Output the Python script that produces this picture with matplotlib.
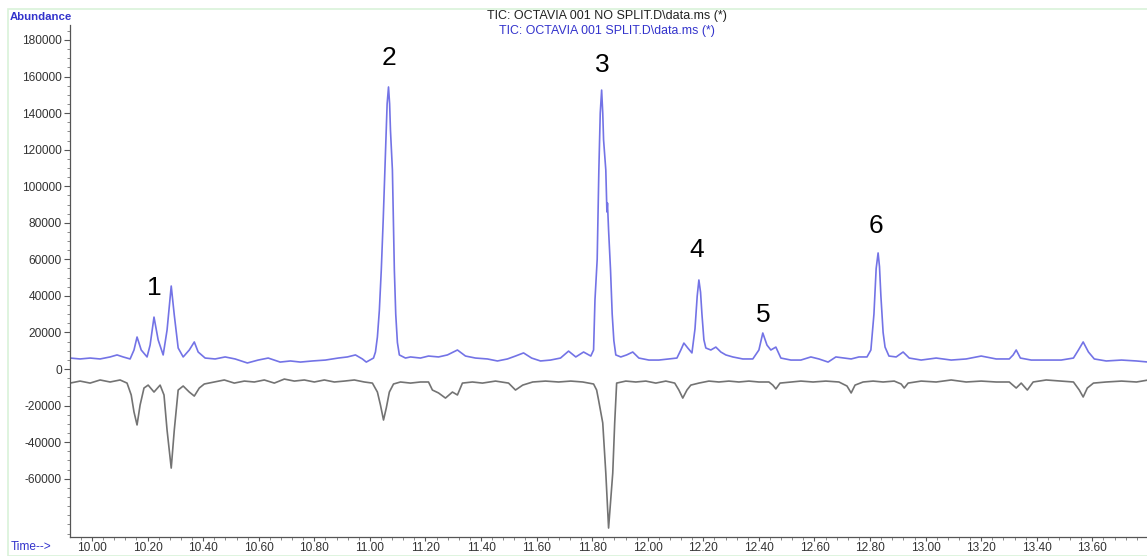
import matplotlib.pyplot as plt
import numpy as np
from matplotlib.patches import Rectangle
from matplotlib.ticker import FixedLocator, MultipleLocator, FormatStrFormatter

plt.rcParams["font.family"] = ["Liberation Sans", "DejaVu Sans"]

# TIC: OCTAVIA 001 SPLIT (blue trace), time in min, abundance in thousands
split_time = [
    9.921, 9.957, 9.993, 10.029, 10.065, 10.090, 10.112, 10.137, 10.151, 10.162,
    10.177, 10.198, 10.209, 10.223, 10.238, 10.256, 10.270, 10.285, 10.296, 10.310,
    10.328, 10.350, 10.368, 10.382, 10.407, 10.443, 10.479, 10.515, 10.559, 10.598,
    10.634, 10.677, 10.714, 10.750, 10.793, 10.840, 10.886, 10.919, 10.948, 10.973,
    10.987, 11.013, 11.020, 11.027, 11.034, 11.041, 11.048, 11.056, 11.062, 11.067,
    11.071, 11.074, 11.081, 11.088, 11.093, 11.099, 11.106, 11.128, 11.146, 11.182,
    11.211, 11.247, 11.279, 11.315, 11.344, 11.380, 11.423, 11.459, 11.495, 11.524,
    11.553, 11.582, 11.614, 11.650, 11.686, 11.715, 11.741, 11.769, 11.795, 11.805,
    11.810, 11.818, 11.824, 11.829, 11.834, 11.838, 11.841, 11.849, 11.853, 11.855,
    11.859, 11.866, 11.872, 11.878, 11.885, 11.903, 11.924, 11.946, 11.968, 12.004,
    12.040, 12.076, 12.105, 12.119, 12.130, 12.144, 12.159, 12.170, 12.178, 12.184,
    12.190, 12.195, 12.202, 12.209, 12.227, 12.245, 12.263, 12.281, 12.306, 12.342,
    12.378, 12.400, 12.414, 12.429, 12.443, 12.461, 12.479, 12.515, 12.551, 12.587,
    12.616, 12.649, 12.677, 12.706, 12.732, 12.760, 12.789, 12.803, 12.814, 12.822,
    12.829, 12.834, 12.839, 12.847, 12.854, 12.868, 12.894, 12.919, 12.941, 12.984,
    13.038, 13.092, 13.146, 13.200, 13.254, 13.301, 13.315, 13.326, 13.341, 13.380,
    13.434, 13.488, 13.532, 13.550, 13.567, 13.586, 13.607, 13.650, 13.705, 13.759,
    13.802,
]
split_abund = [
    6.0, 5.5, 6.0, 5.5, 6.6, 7.7, 6.6, 5.5, 10.4, 17.5,
    10.4, 6.6, 13.1, 28.4, 15.9, 7.7, 21.3, 45.4, 29.5, 11.5,
    6.6, 10.4, 14.8, 9.3, 6.0, 5.5, 6.6, 5.5, 3.3, 4.9,
    6.0, 3.8, 4.4, 3.8, 4.4, 4.9, 6.0, 6.6, 7.7, 5.5,
    3.8, 6.0, 9.3, 17.5, 32.0, 54.2, 82.0, 118.0, 145.0, 154.3,
    145.0, 130.7, 108.9, 54.2, 30.0, 14.5, 7.7, 6.0, 6.6, 6.0,
    7.1, 6.6, 7.7, 10.4, 7.1, 6.0, 5.5, 4.4, 5.5, 7.1,
    8.8, 6.0, 4.4, 4.9, 6.0, 9.8, 6.6, 9.3, 7.1, 10.4,
    37.7, 60.0, 108.9, 140.0, 152.6, 140.0, 125.3, 108.9, 85.9, 90.8,
    76.0, 54.2, 30.0, 15.5, 7.7, 6.6, 7.7, 9.3, 6.0, 4.9,
    4.9, 5.5, 6.0, 10.4, 14.2, 11.5, 8.8, 22.0, 40.0, 48.7,
    42.0, 30.0, 16.0, 11.5, 10.4, 12.0, 9.3, 7.7, 6.6, 5.5,
    5.5, 10.4, 19.7, 13.1, 10.4, 12.0, 6.0, 4.9, 4.9, 6.6,
    5.5, 3.8, 6.6, 6.0, 5.5, 6.6, 6.6, 10.4, 30.0, 55.0,
    63.5, 56.0, 40.0, 20.0, 12.0, 7.1, 6.6, 9.3, 6.0, 4.9,
    6.0, 4.9, 5.5, 7.1, 5.5, 5.5, 7.7, 10.4, 6.0, 4.9,
    4.9, 4.9, 6.0, 10.4, 14.8, 9.3, 5.5, 4.4, 4.9, 4.4,
    3.8,
]

# TIC: OCTAVIA 001 NO SPLIT (grey trace, drawn mirrored below zero)
nosplit_time = [
    9.921, 9.957, 9.993, 10.029, 10.065, 10.101, 10.126, 10.141, 10.151, 10.162,
    10.173, 10.187, 10.202, 10.223, 10.245, 10.259, 10.270, 10.285, 10.296, 10.310,
    10.328, 10.350, 10.368, 10.386, 10.404, 10.440, 10.476, 10.512, 10.548, 10.584,
    10.620, 10.656, 10.692, 10.728, 10.764, 10.800, 10.836, 10.872, 10.908, 10.944,
    10.980, 11.009, 11.027, 11.038, 11.049, 11.059, 11.070, 11.085, 11.110, 11.146,
    11.182, 11.211, 11.225, 11.247, 11.272, 11.297, 11.315, 11.333, 11.369, 11.405,
    11.452, 11.499, 11.524, 11.550, 11.586, 11.632, 11.679, 11.723, 11.766, 11.805,
    11.816, 11.823, 11.838, 11.849, 11.859, 11.874, 11.881, 11.888, 11.921, 11.957,
    11.993, 12.029, 12.065, 12.097, 12.112, 12.126, 12.141, 12.155, 12.184, 12.220,
    12.256, 12.292, 12.328, 12.364, 12.400, 12.436, 12.450, 12.461, 12.476, 12.515,
    12.551, 12.595, 12.641, 12.688, 12.717, 12.732, 12.746, 12.775, 12.811, 12.847,
    12.887, 12.912, 12.923, 12.937, 12.984, 13.038, 13.092, 13.146, 13.200, 13.254,
    13.301, 13.326, 13.344, 13.366, 13.387, 13.434, 13.488, 13.532, 13.553, 13.567,
    13.582, 13.604, 13.650, 13.705, 13.759, 13.802,
]
nosplit_abund = [
    -7.7, -6.6, -7.7, -6.0, -7.1, -6.0, -7.7, -14.2, -23.5, -30.6,
    -19.7, -10.4, -8.8, -12.6, -8.8, -14.2, -33.4, -54.2, -33.4, -11.5,
    -9.3, -12.6, -14.8, -10.4, -8.2, -7.1, -6.0, -7.7, -6.6, -7.1,
    -6.0, -7.7, -5.5, -6.6, -6.0, -7.1, -6.0, -7.1, -6.6, -6.0,
    -7.1, -7.7, -12.6, -19.7, -27.9, -21.3, -12.6, -8.2, -7.1, -7.7,
    -7.1, -7.1, -11.5, -13.1, -15.9, -12.6, -14.2, -7.7, -7.1, -7.7,
    -6.6, -7.7, -11.5, -8.8, -7.1, -6.6, -7.1, -6.6, -7.1, -8.2,
    -11.5, -17.0, -29.5, -56.9, -87.0, -56.9, -29.5, -7.7, -6.6, -7.1,
    -6.6, -7.7, -6.6, -7.7, -11.5, -15.9, -11.5, -8.8, -7.7, -6.6,
    -7.1, -6.6, -7.1, -6.6, -7.1, -7.1, -8.8, -10.9, -7.7, -7.1,
    -6.6, -7.1, -6.6, -7.1, -9.3, -13.1, -8.8, -7.1, -6.6, -7.1,
    -6.6, -8.2, -10.4, -7.7, -6.6, -7.1, -6.0, -7.1, -6.6, -7.1,
    -7.1, -10.4, -7.7, -11.5, -7.1, -6.0, -6.6, -7.1, -11.5, -15.3,
    -10.4, -7.7, -7.1, -6.6, -7.1, -6.0,
]

# peak numbers and where they sit (time, abundance in thousands)
peak_labels = ["1", "2", "3", "4", "5", "6"]
label_time = [10.223, 11.070, 11.838, 12.177, 12.414, 12.822]
label_abund = [44.3, 170.1, 166.3, 65.1, 29.5, 78.2]

x_ticks = [10.0, 10.2, 10.4, 10.6, 10.8, 11.0, 11.2, 11.4, 11.6, 11.8,
           12.0, 12.2, 12.4, 12.6, 12.8, 13.0, 13.2, 13.4, 13.6]
y_ticks = [180000, 160000, 140000, 120000, 100000, 80000, 60000, 40000,
           20000, 0, -20000, -40000, -60000]

W, H = 1147, 556
fig = plt.figure(figsize=(W / 100, H / 100), dpi=100)
fig.patch.set_facecolor("white")

# thin pale green frame of the instrument window
fig.patches.append(Rectangle((8 / W, 0.5 / H), 1.2, (H - 9.5) / H, transform=fig.transFigure,
                             fill=False, edgecolor="#d9f2d9", linewidth=1.2))

ax = fig.add_axes([70 / W, (H - 537) / H, (W - 70) / W + 0.01, (537 - 25) / H])
ax.plot(split_time, np.array(split_abund) * 1000, color="#7373e6", linewidth=1.2)
ax.plot(nosplit_time, np.array(nosplit_abund) * 1000, color="#737373", linewidth=1.2)

for lab, t, a in zip(peak_labels, label_time, label_abund):
    ax.text(t, a * 1000, lab, ha="center", va="center", fontsize=19, color="black")

ax.set_xlim(9.9207, 13.802 + 0.036)
ax.set_ylim(-91900, 188200)

for side in ("top", "right"):
    ax.spines[side].set_visible(False)
for side in ("left", "bottom"):
    ax.spines[side].set_color("#555555")
    ax.spines[side].set_linewidth(0.9)

ax.xaxis.set_major_locator(FixedLocator(x_ticks))
ax.xaxis.set_minor_locator(MultipleLocator(0.04))
ax.xaxis.set_major_formatter(FormatStrFormatter("%.2f"))
ax.yaxis.set_major_locator(FixedLocator(y_ticks))
ax.yaxis.set_minor_locator(MultipleLocator(5000))
ax.yaxis.set_major_formatter(FormatStrFormatter("%d"))
ax.tick_params(axis="both", which="major", length=4, width=0.8, color="#555555",
               labelsize=8.6, labelcolor="#333333", pad=2)
ax.tick_params(axis="both", which="minor", length=2, width=0.6, color="#777777")
ax.tick_params(axis="x", which="major", length=3, pad=0.5)

fig.text(10 / W, 1 - 17 / H, "Abundance", color="#3333cc", fontsize=8.2,
         fontweight="bold", ha="left", va="center")
fig.text(11 / W, 1 - 547 / H, "Time-->", color="#3333cc", fontsize=8.6,
         ha="left", va="center")
fig.text(607 / W, 1 - 16 / H, "TIC: OCTAVIA 001 NO SPLIT.D\\data.ms (*)",
         color="#222222", fontsize=9, ha="center", va="center")
fig.text(607 / W, 1 - 31 / H, "TIC: OCTAVIA 001 SPLIT.D\\data.ms (*)",
         color="#3333cc", fontsize=8.9, ha="center", va="center")

fig.savefig("out.png", dpi=100, facecolor="white")
